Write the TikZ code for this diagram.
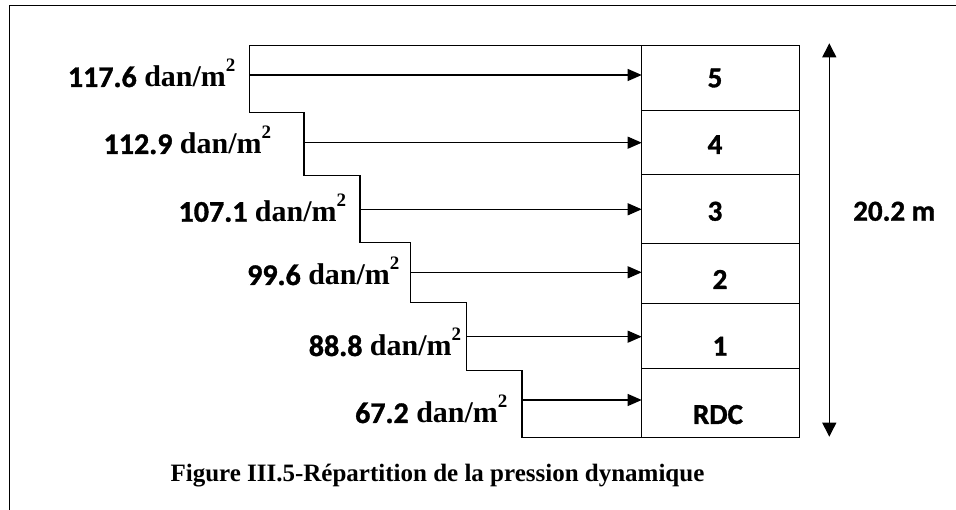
\documentclass[tikz,border=0pt]{standalone}
\usepackage{fontspec}
\setmainfont{Liberation Serif}
\newfontfamily\calfont{Carlito}[UprightFont={* Bold}, BoldFont={* Bold}, BoldFeatures={FakeBold=1.2}]
\usetikzlibrary{arrows.meta}
\newcommand{\sqm}{m\raisebox{0.52em}{\fontsize{19}{19}\selectfont\bfseries 2}}
\begin{document}
\begin{tikzpicture}[x=1pt,y=-1pt, line width=1.1pt,
  lbl/.style={anchor=base east, inner sep=0pt, font=\fontsize{30}{30}\selectfont\bfseries},
  flr/.style={anchor=base, inner sep=0pt, font=\calfont\fontsize{29}{29}\selectfont\bfseries},
  arr/.style={-{Triangle[length=14pt,width=12pt]}},
  dimarr/.style={{Triangle[length=14pt,width=14pt]}-{Triangle[length=14pt,width=14pt]}}]
\useasboundingbox (0,0) rectangle (956,510);
% frame
\draw[line width=1pt] (956,6) -- (9,6) -- (9,510);
% pressure outline
\draw (641.7,45.7) -- (249.3,45.7) -- (249.3,112.7) -- (304,112.7) -- (304,175.7)
  -- (360,175.7) -- (360,242.3) -- (410.7,242.3) -- (410.7,302.3) -- (466.7,302.3)
  -- (466.7,370.7) -- (522,370.7) -- (522,437.3) -- (641.7,437.3);
% building
\draw (641.7,45.7) rectangle (799.3,437.3);
\foreach \y in {110.7,174.7,243.7,303.3,368.3} \draw (641.7,\y) -- (799.3,\y);
% arrow ends
\coordinate (s5) at (249.3,75);    \coordinate (e5) at (641.7,75);
\coordinate (s4) at (304,142.7);   \coordinate (e4) at (641.7,142.7);
\coordinate (s3) at (360,209.3);   \coordinate (e3) at (641.7,209.3);
\coordinate (s2) at (410.7,272.3); \coordinate (e2) at (641.7,272.3);
\coordinate (s1) at (466.7,336.7); \coordinate (e1) at (641.7,336.7);
\coordinate (s0) at (522,400);     \coordinate (e0) at (641.7,400);
\foreach \i in {5,4,3,2,1,0} \draw[arr] (s\i) -- (e\i);
% labels
\node[lbl] (l5) at (236,87) {{\calfont 117.6} dan/\sqm};
\node[lbl] (l4) at (271.7,154) {{\calfont 112.9} dan/\sqm};
\node[lbl] (l3) at (346.7,221.7) {{\calfont 107.1} dan/\sqm};
\node[lbl] (l2) at (400,285) {{\calfont 99.6} dan/\sqm};
\node[lbl] (l1) at (461.7,356) {{\calfont 88.8} dan/\sqm};
\node[lbl] (l0) at (508,423) {{\calfont 67.2} dan/\sqm};
% floor labels
\node[flr] (f5) at (715,87.3) {5};
\node[flr] (f4) at (715,154) {4};
\node[flr] (f3) at (715,220.7) {3};
\node[flr] (f2) at (720,289) {2};
\node[flr] (f1) at (720,355.7) {1};
\node[flr] (f0) at (718,424) {RDC};
% height
\coordinate (h1) at (829.3,43.3);
\coordinate (h2) at (829.3,436.7);
\draw[dimarr] (h1) -- (h2);
\node[flr, anchor=base west] (hl) at (852.7,220.7) {20.2 m};
% caption
\node[anchor=base west, inner sep=0pt, font=\fontsize{25}{25}\selectfont\bfseries] (cap) at (170,482) {Figure III.5-Répartition de la pression dynamique};
\end{tikzpicture}
\end{document}
